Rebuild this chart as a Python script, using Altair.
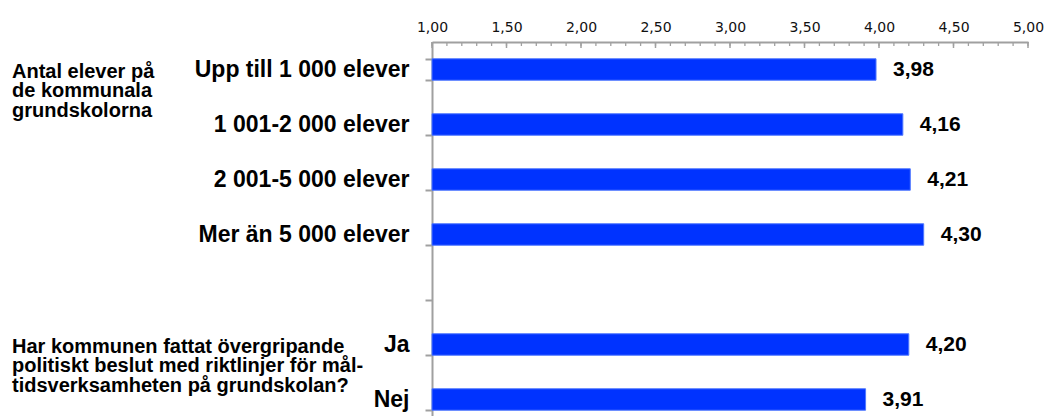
import altair as alt
import pandas as pd

# Row order on the vertical axis (the blank entry leaves a gap between the two groups)
categories = [
    "Upp till 1 000 elever",
    "1 001-2 000 elever",
    "2 001-5 000 elever",
    "Mer än 5 000 elever",
    " ",
    "Ja",
    "Nej",
]
bar_rows = [
    "Upp till 1 000 elever",
    "1 001-2 000 elever",
    "2 001-5 000 elever",
    "Mer än 5 000 elever",
    "Ja",
    "Nej",
]
values = [3.98, 4.16, 4.21, 4.30, 4.20, 3.91]

# Axis ticks
major_ticks = [1.0, 1.5, 2.0, 2.5, 3.0, 3.5, 4.0, 4.5, 5.0]
minor_ticks = [round(1 + 0.1 * i, 1) for i in range(41)]

# Group headings shown to the left of the row labels
group_titles = [
    ["Antal elever på", "de kommunala", "grundskolorna"],
    [
        "Har kommunen fattat övergripande",
        "politiskt beslut med riktlinjer för mål-",
        "tidsverksamheten på grundskolan?",
    ],
]
group_rows = ["Upp till 1 000 elever", "Ja"]

bars_df = pd.DataFrame({"row": bar_rows, "value": values})
major_df = pd.DataFrame({"t": major_ticks})
minor_df = pd.DataFrame({"t": minor_ticks})

# one record per heading line, each placed on the row it belongs to
heading_records = []
for row, lines in zip(group_rows, group_titles):
    for i, line in enumerate(lines):
        heading_records.append({"row": row, "line": i, "text": line})
heading_df = pd.DataFrame(heading_records)

AXIS_GREY = "#a0a0a0"
BLUE = "#0033ff"

x_scale = alt.Scale(domain=[1, 5], zero=False, nice=False)
y_scale = alt.Scale(domain=categories, range=[0, 385], paddingInner=0.61, paddingOuter=0.305)

bars = alt.Chart(bars_df).mark_bar(color=BLUE, stroke="#4f78ff", strokeWidth=1).encode(
    x=alt.X(
        "value:Q",
        scale=x_scale,
        axis=alt.Axis(
            orient="top",
            title=None,
            values=major_ticks,
            grid=False,
            tickSize=0,
            domainColor=AXIS_GREY,
            domainWidth=2,
            labelFont="DejaVu Sans",
            labelFontSize=14,
            labelColor="#111111",
            labelPadding=8,
            labelFlush=False,
            labelExpr="replace(format(datum.value, '.2f'), '.', ',')",
        ),
    ),
    x2=alt.datum(1),
    y=alt.Y(
        "row:N",
        scale=y_scale,
        axis=alt.Axis(
            title=None,
            domainColor=AXIS_GREY,
            domainWidth=2,
            tickColor=AXIS_GREY,
            tickWidth=2,
            tickSize=7,
            tickBand="extent",
            labelFont="Liberation Sans",
            labelFontWeight="bold",
            labelFontSize=23,
            labelColor="black",
            labelPadding=16,
            labelLimit=0,
        ),
    ),
)

value_labels = (
    alt.Chart(bars_df)
    .transform_calculate(txt="replace(format(datum.value, '.2f'), '.', ',')")
    .mark_text(
        align="left",
        baseline="middle",
        dx=17,
        font="Liberation Sans",
        fontWeight="bold",
        fontSize=21,
        color="black",
    )
    .encode(
        x=alt.X("value:Q", scale=x_scale),
        y=alt.Y("row:N", scale=y_scale),
        text="txt:N",
    )
)

major_rules = alt.Chart(major_df).mark_rule(color=AXIS_GREY, strokeWidth=1.5).encode(
    x=alt.X("t:Q", scale=x_scale), y=alt.value(0), y2=alt.value(6)
)
minor_rules = alt.Chart(minor_df).mark_rule(color=AXIS_GREY, strokeWidth=1.3).encode(
    x=alt.X("t:Q", scale=x_scale), y=alt.value(0), y2=alt.value(4)
)

# heading lines, stacked 19.5 px apart starting level with the row label
heading_base = alt.Chart(heading_df).transform_calculate(offset="datum.line * 19.5")
group_text = heading_base.mark_text(
    align="left",
    baseline="middle",
    font="Liberation Sans",
    fontWeight="bold",
    fontSize=20,
    color="black",
    dy=13,
).encode(
    x=alt.value(-420),
    y=alt.Y("row:N", scale=y_scale),
    yOffset=alt.YOffset("offset:Q", scale=None),
    text="text:N",
)

chart = (
    alt.layer(bars, minor_rules, major_rules, value_labels, group_text)
    .properties(
        width=596,
        height=374,
        padding={"left": 432, "top": 42, "right": 16, "bottom": 0},
        autosize=alt.AutoSizeParams(type="none"),
        background="white",
    )
    .configure_view(stroke=None)
)

chart.save("out.html", embed_options={"renderer": "svg", "actions": False})
